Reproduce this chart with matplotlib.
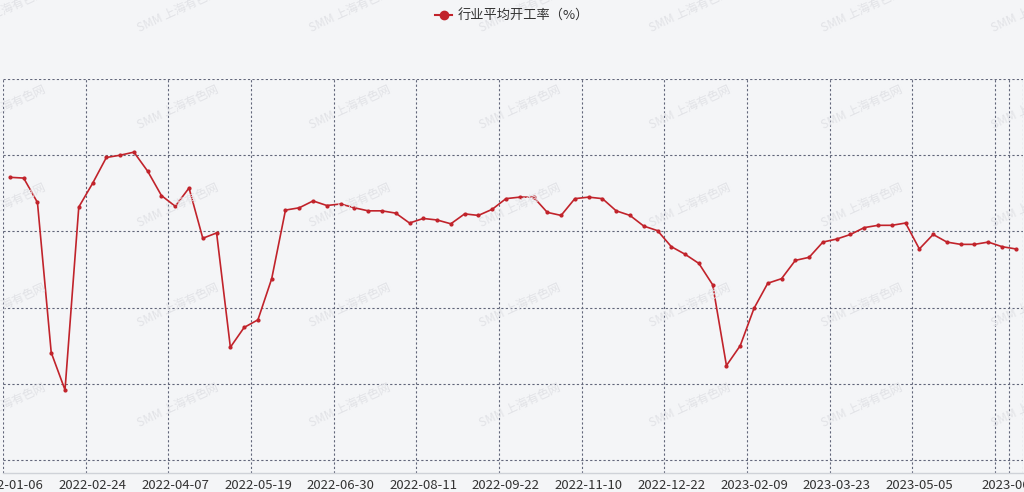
import matplotlib.pyplot as plt
from matplotlib.lines import Line2D

plt.rcParams['font.family'] = ['Noto Sans CJK SC', 'DejaVu Sans']

# --- 数据 ---
dates = [
    '2022-01-06', '2022-01-13', '2022-01-20', '2022-01-27', '2022-02-10', '2022-02-17',
    '2022-02-24', '2022-03-03', '2022-03-10', '2022-03-17', '2022-03-24', '2022-03-31',
    '2022-04-07', '2022-04-14', '2022-04-21', '2022-04-28', '2022-05-05', '2022-05-12',
    '2022-05-19', '2022-05-26', '2022-06-02', '2022-06-09', '2022-06-16', '2022-06-23',
    '2022-06-30', '2022-07-07', '2022-07-14', '2022-07-21', '2022-07-28', '2022-08-04',
    '2022-08-11', '2022-08-18', '2022-08-25', '2022-09-01', '2022-09-08', '2022-09-15',
    '2022-09-22', '2022-09-29', '2022-10-13', '2022-10-20', '2022-10-27', '2022-11-03',
    '2022-11-10', '2022-11-17', '2022-11-24', '2022-12-01', '2022-12-08', '2022-12-15',
    '2022-12-22', '2022-12-29', '2023-01-05', '2023-01-12', '2023-01-19', '2023-02-02',
    '2023-02-09', '2023-02-16', '2023-02-23', '2023-03-02', '2023-03-09', '2023-03-16',
    '2023-03-23', '2023-03-30', '2023-04-06', '2023-04-13', '2023-04-20', '2023-04-27',
    '2023-05-05', '2023-05-11', '2023-05-18', '2023-05-25', '2023-06-01', '2023-06-08',
    '2023-06-15', '2023-06-21',
]
rate = [
    57.1, 57.0, 53.8, 34.1, 29.2, 53.2, 56.3, 59.7, 60.0, 60.4,
    57.9, 54.7, 53.3, 55.7, 49.1, 49.8, 34.8, 37.4, 38.4, 43.8,
    52.8, 53.1, 54.0, 53.4, 53.6, 53.1, 52.7, 52.7, 52.4, 51.1,
    51.7, 51.5, 51.0, 52.3, 52.1, 52.9, 54.3, 54.5, 54.5, 52.5,
    52.1, 54.3, 54.5, 54.3, 52.7, 52.1, 50.7, 50.1, 48.0, 47.0,
    45.8, 43.0, 32.4, 35.0, 39.9, 43.2, 43.8, 46.2, 46.6, 48.6,
    49.0, 49.6, 50.5, 50.8, 50.8, 51.1, 47.7, 49.6, 48.6, 48.3,
    48.3, 48.6, 48.0, 47.7,
]
series_name = '行业平均开工率（%）'
label_idx = list(range(0, 67, 6)) + [73]
y_ticks = [20, 30, 40, 50, 60, 70]

bg = '#f4f5f7'
line_color = '#c1232b'
grid_color = '#62667a'

fig = plt.figure(figsize=(10.24, 4.92), dpi=100, facecolor=bg)
ax = fig.add_axes([3 / 1024, (492 - 473.3) / 492, 1019.7 / 1024, (473.3 - 79) / 492])
ax.set_facecolor(bg)

n = len(rate)
x = list(range(n))
ax.plot(x, rate, color=line_color, lw=1.2, marker='o', ms=2.0, zorder=3)

ax.set_xlim(-0.5, n - 0.5)
ax.set_ylim(18.26, 70)

# 类目轴：标签在类目中心，分隔线在类目边界
ax.set_xticks(label_idx)
ax.set_xticklabels([dates[i] for i in label_idx], fontsize=9.5, color='#333333')
bounds = [i - 0.5 for i in range(0, 73, 6)] + [72.5, 73.5]
ax.set_xticks(bounds, minor=True)
ax.set_yticks(y_ticks)
ax.tick_params(axis='x', which='both', length=0, pad=4)
ax.tick_params(axis='y', length=0, labelleft=False)

ax.grid(False)
ax.xaxis.grid(True, which='minor', color=grid_color, ls=(0, (2, 2)), lw=0.8)
ax.yaxis.grid(True, which='major', color=grid_color, ls=(0, (2, 2)), lw=0.8)
ax.set_axisbelow(True)

for s in ['top', 'left', 'right']:
    ax.spines[s].set_visible(False)
ax.spines['bottom'].set_color('#cfd2d8')
ax.spines['bottom'].set_linewidth(1)

# 水印
for yy in [10, 107, 205, 305, 405]:
    for xx in [5, 178, 350, 520, 690, 862, 1032]:
        fig.text(xx / 1024, 1 - yy / 492, 'SMM 上海有色网', fontsize=8.5,
                 color='#e1e2e6', rotation=25, ha='center', va='center', zorder=0)

# 图例
handle = Line2D([0], [0], color=line_color, lw=1.5, marker='o', ms=6)
fig.legend([handle], [series_name], loc='upper center', bbox_to_anchor=(0.5, 1.005),
           frameon=False, fontsize=9.5, handlelength=1.3, handletextpad=0.4,
           labelcolor='#333333')

fig.savefig('out.png', dpi=100, facecolor=bg)
